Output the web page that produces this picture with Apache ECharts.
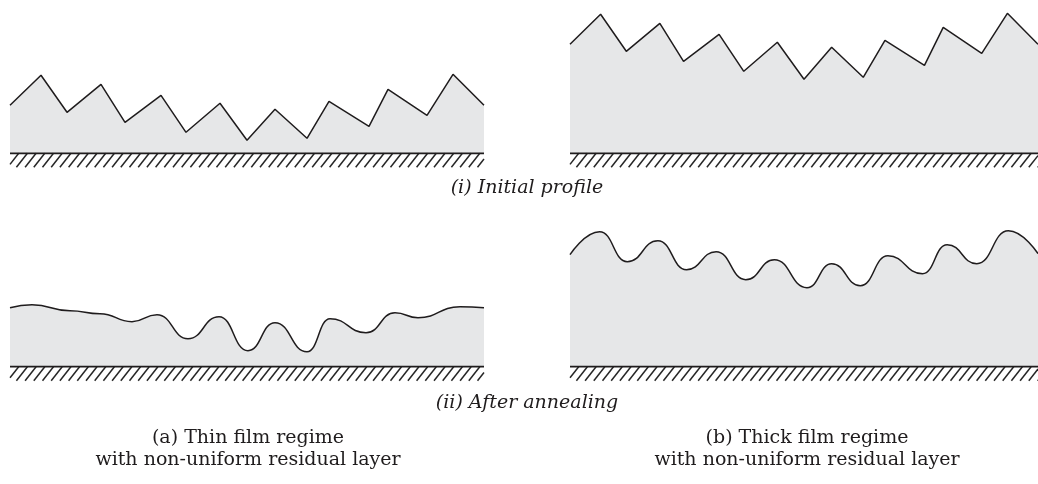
<!DOCTYPE html>
<html>
<head>
<meta charset="utf-8">
<script src="https://cdn.jsdelivr.net/npm/echarts@6/dist/echarts.min.js"></script>
<style>
html,body{margin:0;padding:0;background:#fff;}
#chart{width:1038px;height:484px;}
</style>
</head>
<body>
<div id="chart"></div>
<script>
// ---- Data (heights above substrate, x along the film; units ~ px) ----
const initX      = [0,31,57,91,115,151,176,210,237,265,297,319,359,378,417,443,474];
const initThin   = [48,78,41,69,31,58,21,50,13,44,15,52,27,64,38,79,48];
const initThick  = [109,139,102,130,92,119,82,111,74,106,76,113,88,126,100,140,109];

const annThinX   = [0,22,60,90,122,147,178,209,238,265,297,320,356,385,408,450,474];
const annThin    = [59,62,56,53,45,52,28,50,16,44,15,48,34,54,49,60,59];

const annThickX  = [0,30,58,89,118,148,178,207,240,265,294,322,357,382,412,444,474];
const annThick   = [112,135,105,126,97,115,87,107,79,103,81,111,93,122,103,136,113];

const rowLabels  = ['(i) Initial profile', '(ii) After annealing'];
const capA       = ['(a) Thin film regime', 'with non-uniform residual layer'];
const capB       = ['(b) Thick film regime', 'with non-uniform residual layer'];

const FILM_W = 474;
const PANEL_H = 150;

function pairs(xs, ys){ return xs.map((x,i)=>[x, ys[i]]); }

const chart = echarts.init(document.getElementById('chart'), null, {renderer:'canvas'});

const grids = [
  {left:10,  top:153.3-PANEL_H, width:FILM_W, height:PANEL_H},
  {left:570, top:153.3-PANEL_H, width:FILM_W, height:PANEL_H},
  {left:10,  top:366.7-PANEL_H, width:FILM_W, height:PANEL_H},
  {left:570, top:366.7-PANEL_H, width:FILM_W, height:PANEL_H}
];

const xAxes = grids.map((g,i)=>({type:'value', gridIndex:i, min:0, max:FILM_W, show:false}));
const yAxes = grids.map((g,i)=>({type:'value', gridIndex:i, min:0, max:PANEL_H, show:false}));

const LINE = '#1f1c1d';
const FILL = '#e6e7e8';

function profileSeries(idx, data, smooth){
  return {
    type:'line', xAxisIndex:idx, yAxisIndex:idx,
    data:data, symbol:'none', silent:true,
    smooth: smooth ? 0.5 : false,
    smoothMonotone: smooth ? 'x' : undefined,
    lineStyle:{color:LINE, width:1.5},
    areaStyle:{color:FILL, opacity:1, origin:'start'},
    z:2
  };
}

function hatchRender(params, api){
  const a = api.coord([api.value(0), 0]);
  const b = api.coord([api.value(1), 0]);
  const H = 14, DX = 11, STEP = 8.7;
  const left = a[0], right = b[0], top = a[1];
  const children = [];
  for (let x = left - DX; x < right; x += STEP){
    let x1 = x, y1 = top + H, x2 = x + DX, y2 = top;
    if (x1 < left){ const s = (left - x1)/DX; x1 = left; y1 = top + H - s*H; }
    if (x2 > right){ const s = (right - x)/DX; x2 = right; y2 = top + H - s*H; }
    if (x2 <= x1) continue;
    children.push({type:'line', shape:{x1:x1,y1:y1,x2:x2,y2:y2},
      style:{stroke:'#262626', lineWidth:1.5}});
  }
  children.push({type:'line', shape:{x1:left,y1:top,x2:right,y2:top},
    style:{stroke:LINE, lineWidth:1.8}});
  return {type:'group', children:children};
}

function hatchSeries(idx){
  return {
    type:'custom', xAxisIndex:idx, yAxisIndex:idx, silent:true,
    data:[[0, FILM_W]], renderItem:hatchRender, z:3, clip:false
  };
}

const series = [
  profileSeries(0, pairs(initX, initThin), false),
  profileSeries(1, pairs(initX, initThick), false),
  profileSeries(2, pairs(annThinX, annThin), true),
  profileSeries(3, pairs(annThickX, annThick), true),
  hatchSeries(0), hatchSeries(1), hatchSeries(2), hatchSeries(3)
];

function txt(str, x, y, font){
  return {type:'text', x:x, y:y, silent:true,
    style:{text:str, font:font, fill:'#1f1c1d',
      align:'center', verticalAlign:'middle',
      textAlign:'center', textVerticalAlign:'middle'}};
}

const ITAL = 'italic 19px "DejaVu Serif"';
const CAP  = '19px "DejaVu Serif"';

const graphic = [
  txt(rowLabels[0], 527, 188, ITAL),
  txt(rowLabels[1], 527, 403, ITAL),
  txt(capA[0], 248, 438, CAP),
  txt(capA[1], 248, 460, CAP),
  txt(capB[0], 807, 438, CAP),
  txt(capB[1], 807, 460, CAP)
];

chart.setOption({
  animation:false,
  backgroundColor:'#ffffff',
  grid:grids,
  xAxis:xAxes,
  yAxis:yAxes,
  series:series,
  graphic:graphic
});
</script>
</body>
</html>
